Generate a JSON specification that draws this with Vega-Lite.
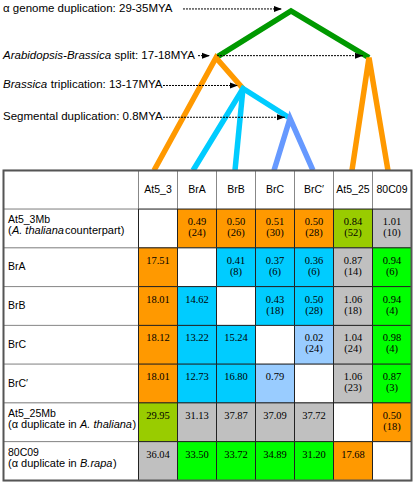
{
  "$schema": "https://vega.github.io/schema/vega-lite/v6.json",
  "width": 415,
  "height": 483,
  "padding": 0,
  "autosize": {"type": "fit", "contains": "padding"},
  "background": "white",
  "config": {"view": {"stroke": null}, "text": {"font": "Liberation Sans, Arial, sans-serif", "color": "black"}},
  "datasets": {
    "tree": [
      {"seg": "g", "k": 1, "x": 1.487, "y": -3.41, "clade": "green"},
      {"seg": "g", "k": 2, "x": 3.41, "y": -4.615, "clade": "green"},
      {"seg": "g", "k": 3, "x": 5.41, "y": -3.41, "clade": "green"},
      {"seg": "oL", "k": 1, "x": -0.103, "y": -0.5, "clade": "orange"},
      {"seg": "oL", "k": 2, "x": 1.487, "y": -3.41, "clade": "orange"},
      {"seg": "oL", "k": 3, "x": 2.179, "y": -2.615, "clade": "orange"},
      {"seg": "oR", "k": 1, "x": 4.974, "y": -0.5, "clade": "orange"},
      {"seg": "oR", "k": 2, "x": 5.41, "y": -3.41, "clade": "orange"},
      {"seg": "oR", "k": 3, "x": 5.897, "y": -0.5, "clade": "orange"},
      {"seg": "c1", "k": 1, "x": 0.897, "y": -0.5, "clade": "cyan"},
      {"seg": "c1", "k": 2, "x": 2.179, "y": -2.615, "clade": "cyan"},
      {"seg": "c1", "k": 3, "x": 3.385, "y": -1.846, "clade": "cyan"},
      {"seg": "c2", "k": 1, "x": 2.179, "y": -2.615, "clade": "cyan"},
      {"seg": "c2", "k": 2, "x": 1.974, "y": -0.5, "clade": "cyan"},
      {"seg": "b", "k": 1, "x": 2.974, "y": -0.5, "clade": "blue"},
      {"seg": "b", "k": 2, "x": 3.385, "y": -1.846, "clade": "blue"},
      {"seg": "b", "k": 3, "x": 3.974, "y": -0.5, "clade": "blue"}
    ],
    "arrows": [
      {"id": "alpha", "x0": 0.641, "x1": 3.179, "y": -4.667},
      {"id": "split1", "x0": 1.026, "x1": 1.333, "y": -3.462},
      {"id": "split2", "x0": 1.513, "x1": 5.256, "y": -3.462},
      {"id": "trip", "x0": 0.128, "x1": 2.051, "y": -2.692},
      {"id": "seg", "x0": 0.128, "x1": 3.256, "y": -1.872}
    ],
    "labels": [
      {"id": "alpha", "y": -4.667, "rest": "α genome duplication: 29-35MYA"},
      {"id": "split", "y": -3.462, "it": "Arabidopsis-Brassica", "rest": "split: 17-18MYA"},
      {"id": "trip", "y": -2.692, "it": "Brassica", "rest": "triplication: 13-17MYA"},
      {"id": "seg", "y": -1.872, "rest": "Segmental duplication: 0.8MYA"}
    ],
    "rows": [
      {"row": "header", "r": 0},
      {"row": "At5_3Mb", "r": 1, "name": "At5_3Mb", "pre": "(", "it": "A. thaliana", "post": "counterpart)"},
      {"row": "BrA", "r": 2, "name": "BrA"},
      {"row": "BrB", "r": 3, "name": "BrB"},
      {"row": "BrC", "r": 4, "name": "BrC"},
      {"row": "BrC′", "r": 5, "name": "BrC′"},
      {"row": "At5_25Mb", "r": 6, "name": "At5_25Mb", "pre": "(α duplicate in", "it": "A. thaliana", "post": ")"},
      {"row": "80C09", "r": 7, "name": "80C09", "pre": "(α duplicate in", "it": "B.rapa", "post": ")"}
    ],
    "cols": [
      {"col": "At5_3", "c": 0},
      {"col": "BrA", "c": 1},
      {"col": "BrB", "c": 2},
      {"col": "BrC", "c": 3},
      {"col": "BrC′", "c": 4},
      {"col": "At5_25", "c": 5},
      {"col": "80C09", "c": 6}
    ],
    "cells": [
      {"row": "At5_3Mb", "col": "At5_3", "g": "white"},
      {"row": "At5_3Mb", "col": "BrA", "v": 0.49, "n": "(24)", "g": "orange"},
      {"row": "At5_3Mb", "col": "BrB", "v": 0.50, "n": "(26)", "g": "orange"},
      {"row": "At5_3Mb", "col": "BrC", "v": 0.51, "n": "(30)", "g": "orange"},
      {"row": "At5_3Mb", "col": "BrC′", "v": 0.50, "n": "(28)", "g": "orange"},
      {"row": "At5_3Mb", "col": "At5_25", "v": 0.84, "n": "(52)", "g": "olive"},
      {"row": "At5_3Mb", "col": "80C09", "v": 1.01, "n": "(10)", "g": "grey"},
      {"row": "BrA", "col": "At5_3", "v": 17.51, "g": "orange"},
      {"row": "BrA", "col": "BrA", "g": "white"},
      {"row": "BrA", "col": "BrB", "v": 0.41, "n": "(8)", "g": "cyan"},
      {"row": "BrA", "col": "BrC", "v": 0.37, "n": "(6)", "g": "cyan"},
      {"row": "BrA", "col": "BrC′", "v": 0.36, "n": "(6)", "g": "cyan"},
      {"row": "BrA", "col": "At5_25", "v": 0.87, "n": "(14)", "g": "grey"},
      {"row": "BrA", "col": "80C09", "v": 0.94, "n": "(6)", "g": "green"},
      {"row": "BrB", "col": "At5_3", "v": 18.01, "g": "orange"},
      {"row": "BrB", "col": "BrA", "v": 14.62, "g": "cyan"},
      {"row": "BrB", "col": "BrB", "g": "white"},
      {"row": "BrB", "col": "BrC", "v": 0.43, "n": "(18)", "g": "cyan"},
      {"row": "BrB", "col": "BrC′", "v": 0.50, "n": "(28)", "g": "cyan"},
      {"row": "BrB", "col": "At5_25", "v": 1.06, "n": "(18)", "g": "grey"},
      {"row": "BrB", "col": "80C09", "v": 0.94, "n": "(4)", "g": "green"},
      {"row": "BrC", "col": "At5_3", "v": 18.12, "g": "orange"},
      {"row": "BrC", "col": "BrA", "v": 13.22, "g": "cyan"},
      {"row": "BrC", "col": "BrB", "v": 15.24, "g": "cyan"},
      {"row": "BrC", "col": "BrC", "g": "white"},
      {"row": "BrC", "col": "BrC′", "v": 0.02, "n": "(24)", "g": "lightblue"},
      {"row": "BrC", "col": "At5_25", "v": 1.04, "n": "(24)", "g": "grey"},
      {"row": "BrC", "col": "80C09", "v": 0.98, "n": "(4)", "g": "green"},
      {"row": "BrC′", "col": "At5_3", "v": 18.01, "g": "orange"},
      {"row": "BrC′", "col": "BrA", "v": 12.73, "g": "cyan"},
      {"row": "BrC′", "col": "BrB", "v": 16.80, "g": "cyan"},
      {"row": "BrC′", "col": "BrC", "v": 0.79, "g": "lightblue"},
      {"row": "BrC′", "col": "BrC′", "g": "white"},
      {"row": "BrC′", "col": "At5_25", "v": 1.06, "n": "(23)", "g": "grey"},
      {"row": "BrC′", "col": "80C09", "v": 0.87, "n": "(3)", "g": "green"},
      {"row": "At5_25Mb", "col": "At5_3", "v": 29.95, "g": "olive"},
      {"row": "At5_25Mb", "col": "BrA", "v": 31.13, "g": "grey"},
      {"row": "At5_25Mb", "col": "BrB", "v": 37.87, "g": "grey"},
      {"row": "At5_25Mb", "col": "BrC", "v": 37.09, "g": "grey"},
      {"row": "At5_25Mb", "col": "BrC′", "v": 37.72, "g": "grey"},
      {"row": "At5_25Mb", "col": "At5_25", "g": "white"},
      {"row": "At5_25Mb", "col": "80C09", "v": 0.50, "n": "(18)", "g": "orange"},
      {"row": "80C09", "col": "At5_3", "v": 36.04, "g": "grey"},
      {"row": "80C09", "col": "BrA", "v": 33.50, "g": "green"},
      {"row": "80C09", "col": "BrB", "v": 33.72, "g": "green"},
      {"row": "80C09", "col": "BrC", "v": 34.89, "g": "green"},
      {"row": "80C09", "col": "BrC′", "v": 31.20, "g": "green"},
      {"row": "80C09", "col": "At5_25", "v": 17.68, "g": "orange"},
      {"row": "80C09", "col": "80C09", "g": "white"}
    ]
  },
  "layer": [
    {
      "data": {"name": "tree"},
      "mark": {"type": "line", "strokeWidth": 5.5, "strokeJoin": "miter", "strokeCap": "butt"},
      "encoding": {
        "x": {"field": "x", "type": "quantitative", "scale": {"domain": [-4.05128, 6.58974], "nice": false, "zero": false}, "axis": null},
        "y": {"field": "y", "type": "quantitative", "scale": {"domain": [-4.82051, 7.5641], "reverse": true, "nice": false, "zero": false}, "axis": null},
        "detail": {"field": "seg"},
        "order": {"field": "k", "type": "quantitative"},
        "stroke": {"field": "clade", "type": "nominal", "scale": {"domain": ["green", "orange", "cyan", "blue"], "range": ["#009900", "#FF9900", "#00CCFF", "#6699FF"]}, "legend": null}
      }
    },
    {
      "data": {"name": "arrows"},
      "mark": {"type": "rule", "strokeDash": [2, 1], "strokeWidth": 1, "color": "black"},
      "encoding": {
        "x": {"field": "x0", "type": "quantitative", "scale": {"domain": [-4.05128, 6.58974], "nice": false, "zero": false}, "axis": null},
        "x2": {"field": "x1"},
        "y": {"field": "y", "type": "quantitative", "scale": {"domain": [-4.82051, 7.5641], "reverse": true, "nice": false, "zero": false}, "axis": null}
      }
    },
    {
      "data": {"name": "arrows"},
      "mark": {"type": "point", "shape": "M-2,-0.75L0,0L-2,0.75Z", "size": 64, "filled": true, "color": "black", "opacity": 1},
      "encoding": {
        "x": {"field": "x1", "type": "quantitative", "scale": {"domain": [-4.05128, 6.58974], "nice": false, "zero": false}, "axis": null},
        "y": {"field": "y", "type": "quantitative", "scale": {"domain": [-4.82051, 7.5641], "reverse": true, "nice": false, "zero": false}, "axis": null}
      }
    },
    {
      "data": {"name": "labels"},
      "transform": [{"filter": "datum.it == null"}],
      "mark": {"type": "text", "align": "left", "baseline": "middle", "fontSize": 11.5},
      "encoding": {
        "x": {"datum": -3.974, "type": "quantitative", "scale": {"domain": [-4.05128, 6.58974], "nice": false, "zero": false}, "axis": null},
        "y": {"field": "y", "type": "quantitative", "scale": {"domain": [-4.82051, 7.5641], "reverse": true, "nice": false, "zero": false}, "axis": null},
        "text": {"field": "rest"}
      }
    },
    {
      "data": {"name": "labels"},
      "transform": [{"filter": "datum.it != null"}],
      "mark": {"type": "text", "align": "left", "baseline": "middle", "fontSize": 11.5, "fontStyle": "italic"},
      "encoding": {
        "x": {"datum": -3.974, "type": "quantitative", "scale": {"domain": [-4.05128, 6.58974], "nice": false, "zero": false}, "axis": null},
        "y": {"field": "y", "type": "quantitative", "scale": {"domain": [-4.82051, 7.5641], "reverse": true, "nice": false, "zero": false}, "axis": null},
        "text": {"field": "it"}
      }
    },
    {
      "data": {"name": "labels"},
      "transform": [{"filter": "datum.id == 'split'"}],
      "mark": {"type": "text", "align": "left", "baseline": "middle", "fontSize": 11.5, "dx": 111.5},
      "encoding": {
        "x": {"datum": -3.974, "type": "quantitative", "scale": {"domain": [-4.05128, 6.58974], "nice": false, "zero": false}, "axis": null},
        "y": {"field": "y", "type": "quantitative", "scale": {"domain": [-4.82051, 7.5641], "reverse": true, "nice": false, "zero": false}, "axis": null},
        "text": {"field": "rest"}
      }
    },
    {
      "data": {"name": "labels"},
      "transform": [{"filter": "datum.id == 'trip'"}],
      "mark": {"type": "text", "align": "left", "baseline": "middle", "fontSize": 11.5, "dx": 47.8},
      "encoding": {
        "x": {"datum": -3.974, "type": "quantitative", "scale": {"domain": [-4.05128, 6.58974], "nice": false, "zero": false}, "axis": null},
        "y": {"field": "y", "type": "quantitative", "scale": {"domain": [-4.82051, 7.5641], "reverse": true, "nice": false, "zero": false}, "axis": null},
        "text": {"field": "rest"}
      }
    },
    {
      "data": {"name": "rows"},
      "mark": {"type": "point", "shape": "M-1,-0.28889H1V0.28889H-1Z", "size": 18225, "filled": true, "fill": "white", "stroke": "#888888", "strokeWidth": 1, "opacity": 1},
      "encoding": {
        "x": {"datum": -2.2308, "type": "quantitative", "scale": {"domain": [-4.05128, 6.58974], "nice": false, "zero": false}, "axis": null},
        "y": {"field": "r", "type": "quantitative", "scale": {"domain": [-4.82051, 7.5641], "reverse": true, "nice": false, "zero": false}, "axis": null}
      }
    },
    {
      "data": {"name": "cols"},
      "mark": {"type": "point", "shape": "square", "size": 1521, "filled": true, "fill": "white", "stroke": "#888888", "strokeWidth": 1, "opacity": 1},
      "encoding": {
        "x": {"field": "c", "type": "quantitative", "scale": {"domain": [-4.05128, 6.58974], "nice": false, "zero": false}, "axis": null},
        "y": {"datum": 0, "type": "quantitative", "scale": {"domain": [-4.82051, 7.5641], "reverse": true, "nice": false, "zero": false}, "axis": null}
      }
    },
    {
      "data": {"name": "cells"},
      "transform": [
        {"lookup": "col", "from": {"data": {"name": "cols"}, "key": "col", "fields": ["c"]}},
        {"lookup": "row", "from": {"data": {"name": "rows"}, "key": "row", "fields": ["r"]}}
      ],
      "mark": {"type": "point", "shape": "square", "size": 1521, "filled": true, "stroke": "#222222", "strokeWidth": 1, "opacity": 1},
      "encoding": {
        "x": {"field": "c", "type": "quantitative", "scale": {"domain": [-4.05128, 6.58974], "nice": false, "zero": false}, "axis": null},
        "y": {"field": "r", "type": "quantitative", "scale": {"domain": [-4.82051, 7.5641], "reverse": true, "nice": false, "zero": false}, "axis": null},
        "fill": {"field": "g", "type": "nominal", "scale": {"domain": ["orange", "cyan", "lightblue", "grey", "green", "olive", "white"], "range": ["#FF9900", "#00CCFF", "#99CCFF", "#C0C0C0", "#00FF00", "#99CC00", "#FFFFFF"]}, "legend": null}
      }
    },
    {
      "data": {"values": [{"part": "border"}]},
      "mark": {"type": "rect", "fill": null, "fillOpacity": 0, "stroke": "#555555", "strokeWidth": 2},
      "encoding": {
        "x": {"datum": -3.9615, "type": "quantitative", "scale": {"domain": [-4.05128, 6.58974], "nice": false, "zero": false}, "axis": null},
        "x2": {"datum": 6.5},
        "y": {"datum": -0.5, "type": "quantitative", "scale": {"domain": [-4.82051, 7.5641], "reverse": true, "nice": false, "zero": false}, "axis": null},
        "y2": {"datum": 7.5}
      }
    },
    {
      "data": {"name": "cols"},
      "mark": {"type": "text", "align": "center", "baseline": "middle", "fontSize": 10.5},
      "encoding": {
        "x": {"field": "c", "type": "quantitative", "scale": {"domain": [-4.05128, 6.58974], "nice": false, "zero": false}, "axis": null},
        "y": {"datum": 0, "type": "quantitative", "scale": {"domain": [-4.82051, 7.5641], "reverse": true, "nice": false, "zero": false}, "axis": null},
        "text": {"field": "col"}
      }
    },
    {
      "data": {"name": "rows"},
      "transform": [{"filter": "datum.name != null && datum.pre == null"}],
      "mark": {"type": "text", "align": "left", "baseline": "middle", "fontSize": 10.5},
      "encoding": {
        "x": {"datum": -3.846, "type": "quantitative", "scale": {"domain": [-4.05128, 6.58974], "nice": false, "zero": false}, "axis": null},
        "y": {"field": "r", "type": "quantitative", "scale": {"domain": [-4.82051, 7.5641], "reverse": true, "nice": false, "zero": false}, "axis": null},
        "text": {"field": "name"}
      }
    },
    {
      "data": {"name": "rows"},
      "transform": [{"filter": "datum.pre != null"}],
      "mark": {"type": "text", "align": "left", "baseline": "alphabetic", "fontSize": 10.5, "dy": -5.5},
      "encoding": {
        "x": {"datum": -3.846, "type": "quantitative", "scale": {"domain": [-4.05128, 6.58974], "nice": false, "zero": false}, "axis": null},
        "y": {"field": "r", "type": "quantitative", "scale": {"domain": [-4.82051, 7.5641], "reverse": true, "nice": false, "zero": false}, "axis": null},
        "text": {"field": "name"}
      }
    },
    {
      "data": {"name": "rows"},
      "transform": [{"filter": "datum.pre != null"}],
      "mark": {"type": "text", "align": "left", "baseline": "alphabetic", "fontSize": 11, "dy": 5.5},
      "encoding": {
        "x": {"datum": -3.846, "type": "quantitative", "scale": {"domain": [-4.05128, 6.58974], "nice": false, "zero": false}, "axis": null},
        "y": {"field": "r", "type": "quantitative", "scale": {"domain": [-4.82051, 7.5641], "reverse": true, "nice": false, "zero": false}, "axis": null},
        "text": {"field": "pre"}
      }
    },
    {
      "data": {"name": "rows"},
      "transform": [{"filter": "datum.row == 'At5_3Mb'"}],
      "mark": {"type": "text", "align": "left", "baseline": "alphabetic", "fontSize": 11, "fontStyle": "italic", "dy": 5.5, "dx": 3.9},
      "encoding": {
        "x": {"datum": -3.846, "type": "quantitative", "scale": {"domain": [-4.05128, 6.58974], "nice": false, "zero": false}, "axis": null},
        "y": {"field": "r", "type": "quantitative", "scale": {"domain": [-4.82051, 7.5641], "reverse": true, "nice": false, "zero": false}, "axis": null},
        "text": {"field": "it"}
      }
    },
    {
      "data": {"name": "rows"},
      "transform": [{"filter": "datum.row == 'At5_25Mb' || datum.row == '80C09'"}],
      "mark": {"type": "text", "align": "left", "baseline": "alphabetic", "fontSize": 11, "fontStyle": "italic", "dy": 5.5, "dx": 72},
      "encoding": {
        "x": {"datum": -3.846, "type": "quantitative", "scale": {"domain": [-4.05128, 6.58974], "nice": false, "zero": false}, "axis": null},
        "y": {"field": "r", "type": "quantitative", "scale": {"domain": [-4.82051, 7.5641], "reverse": true, "nice": false, "zero": false}, "axis": null},
        "text": {"field": "it"}
      }
    },
    {
      "data": {"name": "rows"},
      "transform": [{"filter": "datum.row == 'At5_3Mb'"}],
      "mark": {"type": "text", "align": "left", "baseline": "alphabetic", "fontSize": 11, "dy": 5.5, "dx": 57},
      "encoding": {
        "x": {"datum": -3.846, "type": "quantitative", "scale": {"domain": [-4.05128, 6.58974], "nice": false, "zero": false}, "axis": null},
        "y": {"field": "r", "type": "quantitative", "scale": {"domain": [-4.82051, 7.5641], "reverse": true, "nice": false, "zero": false}, "axis": null},
        "text": {"field": "post"}
      }
    },
    {
      "data": {"name": "rows"},
      "transform": [{"filter": "datum.row == 'At5_25Mb'"}],
      "mark": {"type": "text", "align": "left", "baseline": "alphabetic", "fontSize": 11, "dy": 5.5, "dx": 124.5},
      "encoding": {
        "x": {"datum": -3.846, "type": "quantitative", "scale": {"domain": [-4.05128, 6.58974], "nice": false, "zero": false}, "axis": null},
        "y": {"field": "r", "type": "quantitative", "scale": {"domain": [-4.82051, 7.5641], "reverse": true, "nice": false, "zero": false}, "axis": null},
        "text": {"field": "post"}
      }
    },
    {
      "data": {"name": "rows"},
      "transform": [{"filter": "datum.row == '80C09'"}],
      "mark": {"type": "text", "align": "left", "baseline": "alphabetic", "fontSize": 11, "dy": 5.5, "dx": 105},
      "encoding": {
        "x": {"datum": -3.846, "type": "quantitative", "scale": {"domain": [-4.05128, 6.58974], "nice": false, "zero": false}, "axis": null},
        "y": {"field": "r", "type": "quantitative", "scale": {"domain": [-4.82051, 7.5641], "reverse": true, "nice": false, "zero": false}, "axis": null},
        "text": {"field": "post"}
      }
    },
    {
      "data": {"name": "cells"},
      "transform": [
        {"filter": "datum.v != null"},
        {"lookup": "col", "from": {"data": {"name": "cols"}, "key": "col", "fields": ["c"]}},
        {"lookup": "row", "from": {"data": {"name": "rows"}, "key": "row", "fields": ["r"]}}
      ],
      "mark": {"type": "text", "align": "center", "baseline": "alphabetic", "font": "Liberation Serif", "fontSize": 10.5, "dy": -3.5},
      "encoding": {
        "x": {"field": "c", "type": "quantitative", "scale": {"domain": [-4.05128, 6.58974], "nice": false, "zero": false}, "axis": null},
        "y": {"field": "r", "type": "quantitative", "scale": {"domain": [-4.82051, 7.5641], "reverse": true, "nice": false, "zero": false}, "axis": null},
        "text": {"field": "v", "type": "quantitative", "format": ".2f"}
      }
    },
    {
      "data": {"name": "cells"},
      "transform": [
        {"filter": "datum.n != null"},
        {"lookup": "col", "from": {"data": {"name": "cols"}, "key": "col", "fields": ["c"]}},
        {"lookup": "row", "from": {"data": {"name": "rows"}, "key": "row", "fields": ["r"]}}
      ],
      "mark": {"type": "text", "align": "center", "baseline": "alphabetic", "font": "Liberation Serif", "fontSize": 10.5, "dy": 7.5},
      "encoding": {
        "x": {"field": "c", "type": "quantitative", "scale": {"domain": [-4.05128, 6.58974], "nice": false, "zero": false}, "axis": null},
        "y": {"field": "r", "type": "quantitative", "scale": {"domain": [-4.82051, 7.5641], "reverse": true, "nice": false, "zero": false}, "axis": null},
        "text": {"field": "n"}
      }
    }
  ]
}
